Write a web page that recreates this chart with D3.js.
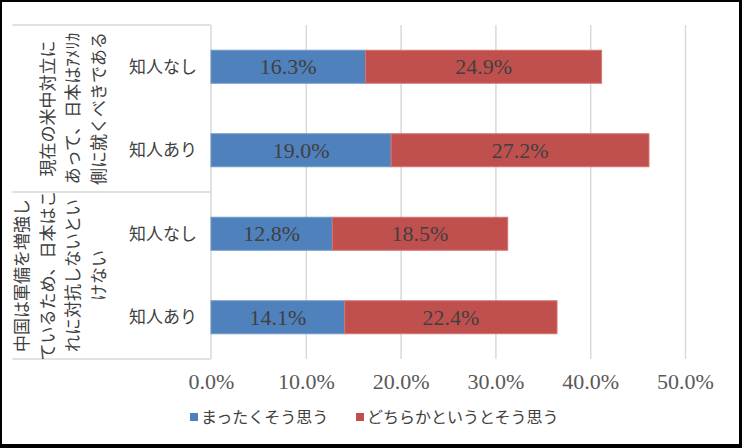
<!DOCTYPE html>
<html>
<head>
<meta charset="utf-8">
<script src="https://cdn.jsdelivr.net/npm/d3@7"></script>
<style>
  body { margin: 0; background: #fff; }
  svg { display: block; }
</style>
</head>
<body>
<script>
// chart data
var categories = ["知人なし", "知人あり", "知人なし", "知人あり"];
var groupLines = [
  ["現在の米中対立に", "あって、日本はｱﾒﾘｶ", "側に就くべきである"],
  ["中国は軍備を増強し", "ているため、日本はこ", "れに対抗しないとい", "けない"]
];
var strongly = [16.3, 19.0, 12.8, 14.1];
var somewhat = [24.9, 27.2, 18.5, 22.4];
var tickValues = [0, 10, 20, 30, 40, 50];
var seriesNames = ["まったくそう思う", "どちらかというとそう思う"];
var colors = ["#4f81bd", "#c0504d"];
var strokes = ["#6e98cc", "#d77370"];

var w = 742;
var h = 448;
var numFont = "'Liberation Serif', serif";
var jpFont = "'Noto Sans CJK JP', sans-serif";
var fmt = d3.format(".1f");

var svg = d3.select("body").append("svg")
  .attr("width", w)
  .attr("height", h);

// outer black frame
svg.append("rect").attr("width", w).attr("height", h).attr("fill", "#000");
svg.append("rect").attr("x", 2).attr("y", 2).attr("width", 737).attr("height", 442).attr("fill", "#fff");

var x = d3.scaleLinear().domain([0, 50]).range([211, 685]);
var y = d3.scaleBand().domain(d3.range(categories.length)).range([25, 359])
  .paddingInner(0.605).paddingOuter(0.3025);

// gridlines
svg.append("g")
  .attr("transform", "translate(0,359)")
  .call(d3.axisBottom(x).tickValues(tickValues.slice(1)).tickSize(-334).tickFormat(""))
  .call(function(g) { g.select(".domain").remove(); })
  .selectAll("line")
  .attr("stroke", "#d9d9d9")
  .attr("stroke-width", 1.5);

// category box lines
var boxLines = [25, 192, 359];
svg.selectAll(".boxline")
  .data(boxLines)
  .enter().append("line")
  .attr("x1", 12.5).attr("x2", x(0))
  .attr("y1", function(d) { return d; })
  .attr("y2", function(d) { return d; })
  .attr("stroke", "#d9d9d9")
  .attr("stroke-width", 1.5);
svg.append("line")
  .attr("x1", x(0)).attr("x2", x(0))
  .attr("y1", 25).attr("y2", 359)
  .attr("stroke", "#d9d9d9")
  .attr("stroke-width", 1.5);

// bars
var series = [strongly, somewhat];
series.forEach(function(vals, s) {
  svg.selectAll(".bar" + s)
    .data(vals)
    .enter().append("rect")
    .attr("class", "bar" + s)
    .attr("x", function(d, i) { return s === 0 ? x(0) : x(strongly[i]); })
    .attr("y", function(d, i) { return y(i); })
    .attr("width", function(d) { return x(d) - x(0); })
    .attr("height", y.bandwidth())
    .attr("fill", colors[s])
    .attr("stroke", strokes[s])
    .attr("stroke-width", 1);

  svg.selectAll(".lab" + s)
    .data(vals)
    .enter().append("text")
    .attr("x", function(d, i) {
      var start = s === 0 ? 0 : strongly[i];
      return (x(start) + x(start + d)) / 2;
    })
    .attr("y", function(d, i) { return y(i) + y.bandwidth() / 2; })
    .attr("dy", "0.35em")
    .attr("text-anchor", "middle")
    .attr("font-family", numFont)
    .attr("font-size", 22)
    .attr("fill", "#404040")
    .text(function(d) { return fmt(d) + "%"; });
});

// x tick labels
svg.append("g")
  .attr("transform", "translate(0,381)")
  .call(d3.axisBottom(x).tickValues(tickValues).tickSize(0).tickPadding(0)
    .tickFormat(function(d) { return fmt(d) + "%"; }))
  .call(function(g) { g.select(".domain").remove(); })
  .selectAll("text")
  .attr("dy", "0.35em")
  .attr("font-family", numFont)
  .attr("font-size", 22)
  .attr("fill", "#595959");

// category labels
svg.selectAll(".cat")
  .data(categories)
  .enter().append("text")
  .attr("x", 197)
  .attr("y", function(d, i) { return y(i) + y.bandwidth() / 2; })
  .attr("dy", "0.35em")
  .attr("text-anchor", "end")
  .attr("font-family", jpFont)
  .attr("font-size", 17)
  .attr("fill", "#404040")
  .text(function(d) { return d; });

// group labels (rotated, multi-line)
var groupCenters = [(25 + 192) / 2, (192 + 359) / 2];
groupLines.forEach(function(lines, gi) {
  var n = lines.length;
  lines.forEach(function(line, li) {
    var cx = 99 - (n - 1 - li) * 25.5;
    svg.append("text")
      .attr("transform", "translate(" + cx + "," + groupCenters[gi] + ") rotate(-90)")
      .attr("dy", "0.35em")
      .attr("text-anchor", "middle")
      .attr("font-family", jpFont)
      .attr("font-size", 17)
      .attr("fill", "#404040")
      .text(line);
  });
});

// legend
var legendX = [190, 356];
seriesNames.forEach(function(name, s) {
  svg.append("rect")
    .attr("x", legendX[s]).attr("y", 413)
    .attr("width", 8).attr("height", 8)
    .attr("fill", colors[s]);
  svg.append("text")
    .attr("x", legendX[s] + 11).attr("y", 417)
    .attr("dy", "0.35em")
    .attr("font-family", jpFont)
    .attr("font-size", 16)
    .attr("fill", "#404040")
    .text(name);
});
</script>
</body>
</html>
